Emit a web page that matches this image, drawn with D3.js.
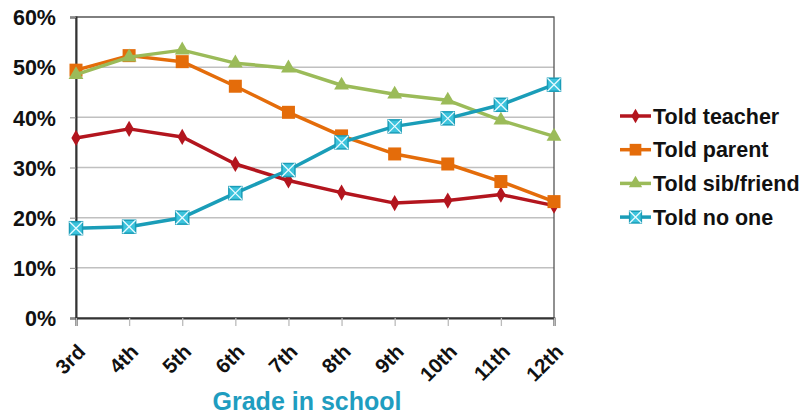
<!DOCTYPE html>
<html><head><meta charset="utf-8">
<script src="https://cdn.jsdelivr.net/npm/d3@7"></script>
<style>body{margin:0;background:#fff;} text{font-family:Arial,"Liberation Sans",sans-serif;font-weight:bold;}</style>
</head><body><svg id="c" width="809" height="415"></svg>
<script>
const grades = ["3rd","4th","5th","6th","7th","8th","9th","10th","11th","12th"];
const toldTeacher = [35.9,37.7,36.1,30.7,27.4,25.0,22.9,23.4,24.6,22.4];
const toldParent  = [49.4,52.3,51.1,46.2,41.0,36.3,32.7,30.7,27.2,23.2];
const toldSib     = [48.5,52.0,53.4,50.8,49.8,46.4,44.6,43.4,39.4,36.2];
const toldNoOne   = [17.9,18.2,20.0,24.9,29.5,35.0,38.2,39.8,42.5,46.5];
const yTicks = [0,10,20,30,40,50,60];
const seriesNames = ["Told teacher","Told parent","Told sib/friend","Told no one"];
const seriesColors = ["#B3151E","#E46C0A","#9BBB59","#1A9DB8"];
const markerTypes = ["diamond","square","triangle","xsquare"];
const seriesValues = [toldTeacher,toldParent,toldSib,toldNoOne];

const svg = d3.select("#c");
const L=76,R=554,T=17,B=318;
const x = d3.scalePoint().domain(grades).range([L,R]);
const y = d3.scaleLinear().domain([0,60]).range([B,T]);

// gridlines
svg.append("g").selectAll("line").data(yTicks.filter(d=>d>0)).join("line")
  .attr("x1",L).attr("x2",R).attr("y1",d=>y(d)).attr("y2",d=>y(d))
  .attr("stroke","#C0C0C0").attr("stroke-width",1.5);
// border
svg.append("rect").attr("x",L).attr("y",T).attr("width",R-L).attr("height",B-T)
  .attr("fill","none").attr("stroke","#555").attr("stroke-width",1.3);

// y axis
const ya = svg.append("g").attr("transform",`translate(${L},0)`)
  .call(d3.axisLeft(y).tickValues(yTicks).tickFormat(d=>d+"%").tickSize(6).tickPadding(14));
ya.select(".domain").attr("stroke","#333").attr("stroke-width",2);
ya.selectAll(".tick line").attr("stroke","#888");
ya.selectAll(".tick text").attr("font-size",21.5).attr("fill","#111").attr("dy","0.36em");

// x axis
const xa = svg.append("g").attr("transform",`translate(0,${B})`)
  .call(d3.axisBottom(x).tickSize(8).tickPadding(4));
xa.select(".domain").attr("stroke","#333").attr("stroke-width",2);
xa.selectAll(".tick line").attr("stroke","#BBB").attr("stroke-width",1.3);
xa.selectAll(".tick text").attr("font-size",20.5).attr("fill","#111")
  .attr("text-anchor","end").attr("dy",0).attr("y",0)
  .attr("transform","translate(10,35) rotate(-45)");

// axis title
svg.append("text").attr("x",(L+R)/2-8).attr("y",410).attr("text-anchor","middle")
  .attr("font-size",25).attr("fill","#1F9DC0").text("Grade in school");

function drawMarker(g,type,color,cx,cy,scale){
  const s=scale||1;
  if(type==="diamond"){
    g.append("path").attr("d",d3.symbol(d3.symbolDiamond,75*s*s)())
      .attr("transform",`translate(${cx},${cy})`).attr("fill",color);
  } else if(type==="square"){
    g.append("rect").attr("x",cx-6.5*s).attr("y",cy-6.5*s).attr("width",13*s).attr("height",13*s).attr("fill",color);
  } else if(type==="triangle"){
    g.append("path").attr("d",d3.symbol(d3.symbolTriangle,95*s*s)())
      .attr("transform",`translate(${cx},${cy})`).attr("fill",color);
  } else {
    const h=6.5*s;
    g.append("rect").attr("x",cx-h).attr("y",cy-h).attr("width",2*h).attr("height",2*h)
      .attr("fill","#3CC3DC").attr("stroke","#1A9DB8").attr("stroke-width",1.5);
    g.append("path").attr("d",`M${cx-h},${cy-h}L${cx+h},${cy+h}M${cx+h},${cy-h}L${cx-h},${cy+h}`)
      .attr("stroke","#E8FAFF").attr("stroke-width",1.3);
  }
}

const line = d3.line().x((d,i)=>x(grades[i])).y(d=>y(d));
seriesValues.forEach((vals,k)=>{
  const g=svg.append("g");
  g.append("path").datum(vals).attr("d",line).attr("fill","none")
    .attr("stroke",seriesColors[k]).attr("stroke-width",3.5).attr("stroke-linejoin","round");
  vals.forEach((v,i)=>drawMarker(g,markerTypes[k],seriesColors[k],x(grades[i]),y(v)));
});

// legend
const lg = svg.append("g");
seriesNames.forEach((n,k)=>{
  const cy = 116 + k*33.7;
  lg.append("line").attr("x1",620).attr("x2",651).attr("y1",cy).attr("y2",cy)
    .attr("stroke",seriesColors[k]).attr("stroke-width",3.5);
  drawMarker(lg,markerTypes[k],seriesColors[k],635.5,cy,0.9);
  lg.append("text").attr("x",653).attr("y",cy).attr("dy","0.36em")
    .attr("font-size",21.5).attr("fill","#111").text(n);
});
</script></body></html>
